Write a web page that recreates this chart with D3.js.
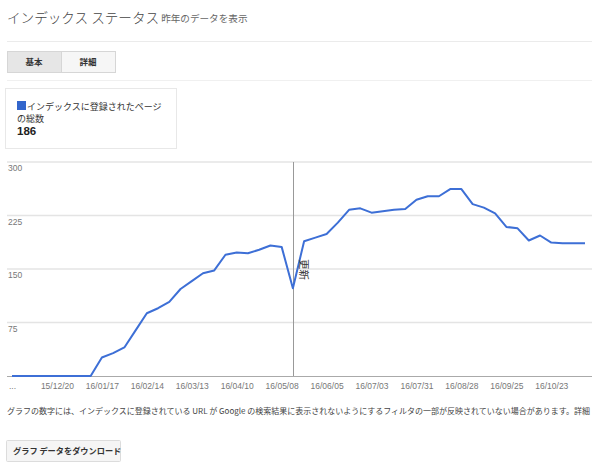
<!DOCTYPE html>
<html><head><meta charset="utf-8">
<script src="https://cdn.jsdelivr.net/npm/d3@7"></script>
<style>
html,body{margin:0;padding:0;background:#fff;}
svg{display:block;}
</style></head>
<body>
<script>
// ---- data ----
const startDate = "2015-11-22";
const values = [0,0,0,0,0,0,0,0,26,32,40,64,88,95,104,122,133,144,148,170,173,172,177,183,181,123,
  189,194,199,215,233,235,229,231,233,234,247,252,252,262,262,241,236,228,209,207,190,197,187,186,186,186];
const yTicks = [75,150,225,300];
const tickEvery = 4; // weeks
const tickFirstLabel = "...";
const annotationDate = "2016-05-15";
const annotationText = "更新";
const title = "インデックス ステータス";
const subtitle = "昨年のデータを表示";
const tabs = ["基本","詳細"];
const cardLines = ["インデックスに登録されたページ","の総数"];
const total = "186";
const note = "グラフの数字には、インデックスに登録されている URL が Google の検索結果に表示されないようにするフィルタの一部が反映されていない場合があります。詳細";
const buttonLabel = "グラフ データをダウンロード";

const parse = d3.timeParse("%Y-%m-%d");
const fmt = d3.timeFormat("%y/%m/%d");
const t0 = parse(startDate);
const data = values.map((v,i)=>({date:d3.timeDay.offset(t0,i*7), value:v}));

const W=600,H=468;
const JP = "'Noto Sans CJK JP','Noto Sans',sans-serif";
const LAT = "'Liberation Sans',Arial,sans-serif";
const svg = d3.select("body").append("svg").attr("width",W).attr("height",H);
svg.append("rect").attr("width",W).attr("height",H).attr("fill","#fff");

// header
svg.append("text").attr("x",7).attr("y",23).attr("font-family",JP).attr("font-size",13.6)
  .attr("font-weight",300).attr("fill","#444").text(title)
  .each(function(){
    const w=this.getComputedTextLength();
    svg.append("text").attr("x",7+w+2).attr("y",22).attr("font-family",JP).attr("font-size",9.6)
      .attr("fill","#666").text(subtitle);
  });
svg.append("line").attr("x1",7).attr("x2",592).attr("y1",41.5).attr("y2",41.5).attr("stroke","#ebebeb");

// tabs
const tabG = svg.append("g");
tabs.forEach((t,i)=>{
  const x = 7 + i*54;
  tabG.append("rect").attr("x",x+0.5).attr("y",51.5).attr("width",54).attr("height",21)
    .attr("fill", i===0?"#e6e6e6":"#f6f6f6").attr("stroke","#d6d6d6");
  tabG.append("text").attr("x",x+27).attr("y",65).attr("text-anchor","middle").attr("font-family",JP)
    .attr("font-size",8.5).attr("font-weight",700).attr("fill","#333").text(t);
});
svg.append("line").attr("x1",7).attr("x2",592).attr("y1",80.5).attr("y2",80.5).attr("stroke","#f0f0f0");

// card
svg.append("rect").attr("x",5.5).attr("y",88.5).attr("width",171).attr("height",60)
  .attr("fill","#fff").attr("stroke","#e8e8e8");
svg.append("rect").attr("x",17).attr("y",101).attr("width",9).attr("height",9).attr("fill","#3366cc");
svg.append("text").attr("x",27).attr("y",109.5).attr("font-family",JP).attr("font-size",9)
  .attr("fill","#333").text(cardLines[0]);
svg.append("text").attr("x",17).attr("y",122).attr("font-family",JP).attr("font-size",9)
  .attr("fill","#333").text(cardLines[1]);
svg.append("text").attr("x",17).attr("y",135).attr("font-family",LAT).attr("font-size",11.5)
  .attr("font-weight",700).attr("fill","#222").text(total);

// chart
const x = d3.scaleTime().domain(d3.extent(data,d=>d.date)).range([12,585]);
const y = d3.scaleLinear().domain([0,300]).range([376,162]);
const plotL=7, plotR=592;

const grid = svg.append("g");
grid.selectAll("line").data(yTicks).join("line")
  .attr("x1",plotL).attr("x2",plotR).attr("y1",d=>y(d)).attr("y2",d=>y(d))
  .attr("stroke","#e4e4e4").attr("stroke-width",1.5);
grid.selectAll("text").data(yTicks).join("text")
  .attr("x",8).attr("y",d=>y(d)+9).attr("font-family",LAT).attr("font-size",8.5)
  .attr("fill","#777").text(d=>d);

// annotation line
const ad = parse(annotationDate);
svg.append("line").attr("x1",Math.round(x(ad))+0.5).attr("x2",Math.round(x(ad))+0.5)
  .attr("y1",y(300)).attr("y2",y(0)).attr("stroke","#999").attr("stroke-width",1);

// x axis
const tickDates = data.filter((d,i)=>i%tickEvery===0).map(d=>d.date);
const xAxis = d3.axisBottom(x).tickValues(tickDates).tickSize(0).tickPadding(7)
  .tickFormat((d,i)=> i===0 ? tickFirstLabel : fmt(d));
const ax = svg.append("g").attr("transform",`translate(0,${y(0)})`).call(xAxis);
ax.select(".domain").remove();
ax.selectAll("text").attr("font-family",LAT).attr("font-size",8.5).attr("fill","#777");
svg.append("line").attr("x1",plotL).attr("x2",plotR).attr("y1",y(0)+0.5).attr("y2",y(0)+0.5)
  .attr("stroke","#aaa").attr("stroke-width",1);

// line
svg.append("path").datum(data)
  .attr("d",d3.line().x(d=>x(d.date)).y(d=>y(d.value)))
  .attr("fill","none").attr("stroke","#3d6fd6").attr("stroke-width",2).attr("stroke-linejoin","round");

// annotation text (vertical)
svg.append("text").attr("transform",`translate(${x(ad)+4},${259}) rotate(90)`)
  .attr("dominant-baseline","text-after-edge")
  .attr("font-family",JP).attr("font-size",10.5).attr("fill","#333").text(annotationText);

// note
svg.append("text").attr("x",7).attr("y",414).attr("font-family",JP).attr("font-size",8)
  .attr("fill","#444").text(note);

// button
svg.append("rect").attr("x",6.5).attr("y",440.5).attr("width",114).attr("height",21)
  .attr("rx",1).attr("fill","#f5f5f5").attr("stroke","#dcdcdc");
svg.append("text").attr("x",13).attr("y",454).attr("font-family",JP).attr("font-size",8.2)
  .attr("font-weight",700).attr("fill","#333").text(buttonLabel);
</script>
</body></html>
